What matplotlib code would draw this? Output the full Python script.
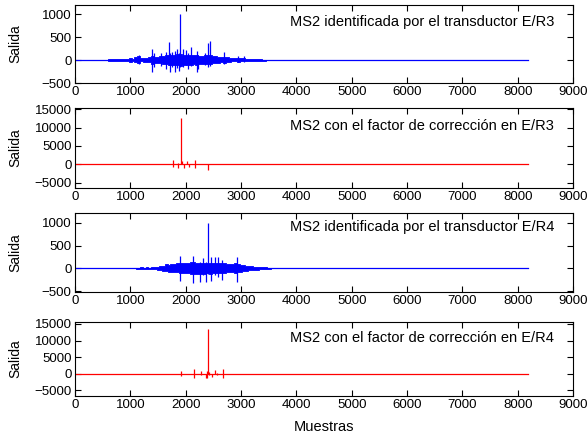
import matplotlib
matplotlib.use("Agg")
import matplotlib.pyplot as plt

# ---------------- data ----------------
N_SAMPLES = 8192

# Panel 1: MS2 identified by transducer E/R3
# dense core amplitude per 50-sample bin
p1_start, p1_step = 600, 50
p1_core_hi = [15, 15, 15, 15, 15, 15, 15, 20,
              50, 30, 60, 90, 40, 40, 50, 60, 80, 60, 70, 80,
              90, 100, 120, 110, 120, 130, 130, 120,
              120, 110, 120, 100, 110, 90, 90, 100, 110, 100,
              80, 80, 70, 60, 70, 60, 40, 40, 40, 50,
              40, 50, 20, 15, 15, 15, 15, 15, 10, 10]
p1_core_lo = [-10, -10, -10, -10, -10, -10, -10, -15,
              -40, -30, -50, -70, -30, -40, -50, -50, -80, -60, -60, -70,
              -80, -90, -100, -100, -110, -110, -120, -110,
              -100, -110, -100, -90, -100, -80, -80, -80, -90, -90,
              -70, -60, -60, -50, -60, -50, -40, -30, -30, -40,
              -30, -30, -20, -10, -10, -10, -10, -10, -10, -10]
# individual spikes
p1_sp_pos = [1150, 1400, 1420, 1550, 1650, 1690, 1710, 1750, 1800, 1850, 1880,
             1905, 1950, 2000, 2050, 2100, 2200, 2230, 2350, 2410, 2440, 2700,
             2950, 3050]
p1_sp_hi = [100, 250, 150, 160, 180, 390, 150, 170, 200, 250, 150,
            1000, 250, 220, 150, 280, 200, 120, 160, 380, 410, 170,
            90, 80]
p1_sp_lo = [-90, -270, -150, -120, -200, -100, -250, -150, -260, -180, -240,
            -150, -150, -100, -200, -120, -270, -200, -100, -160, -140, -80,
            -50, -40]

# Panel 2: MS2 with correction factor in E/R3 (spikes)
p2_pos = [1775, 1855, 1910, 1935, 1965, 2030, 2060, 2175, 2410]
p2_hi = [1100, 300, 12700, 800, 0, 1000, 0, 1300, 0]
p2_lo = [-600, -1000, 0, 0, -1000, 0, -700, -1000, -1500]

# Panel 3: MS2 identified by transducer E/R4
p3_start, p3_step = 1100, 50
p3_core_hi = [15, 15, 25, 15, 20, 15, 25, 20,
              40, 50, 60, 90, 80, 90, 100, 110, 120, 110, 110, 110,
              130, 130, 120, 120, 120, 120, 120, 120,
              110, 120, 120, 110, 110, 100, 90, 100, 110, 90,
              70, 70, 60, 60, 50, 40, 40, 30, 25, 20, 15, 10]
p3_core_lo = [-10, -15, -20, -15, -20, -15, -20, -20,
              -30, -40, -50, -60, -80, -70, -90, -90, -110, -100, -110, -100,
              -120, -130, -130, -120, -120, -120, -110, -120,
              -100, -110, -110, -110, -100, -90, -80, -80, -100, -90,
              -70, -60, -50, -40, -40, -30, -30, -20, -20, -15, -15, -10]
p3_sp_pos = [1900, 2140, 2260, 2310, 2370, 2405, 2450, 2530, 2590, 2650, 2920]
p3_sp_hi = [270, 280, 150, 220, 150, 1010, 240, 250, 250, 180, 260]
p3_sp_lo = [-280, -330, -300, -140, -290, -120, -280, -150, -200, -260, -300]

# Panel 4: MS2 with correction factor in E/R4 (spikes)
p4_pos = [1910, 2150, 2280, 2360, 2390, 2410, 2420, 2470, 2530, 2560, 2670]
p4_hi = [870, 1450, 680, 0, 680, 13470, 500, 0, 1160, 300, 1450]
p4_lo = [-770, -1260, -480, -1450, -1260, 0, -300, -1070, 0, -300, -1260]

titles = ["MS2 identificada por el transductor E/R3",
          "MS2 con el factor de corrección en E/R3",
          "MS2 identificada por el transductor E/R4",
          "MS2 con el factor de corrección en E/R4"]
ylims = [(-500, 1200), (-6400, 15300), (-520, 1220), (-6750, 15600)]
yticks = [[-500, 0, 500, 1000],
          [-5000, 0, 5000, 10000, 15000],
          [-500, 0, 500, 1000],
          [-5000, 0, 5000, 10000, 15000]]
xticks = [0, 1000, 2000, 3000, 4000, 5000, 6000, 7000, 8000, 9000]

# ---------------- layout ----------------
plt.rcParams['font.family'] = ['Liberation Sans', 'DejaVu Sans']
W, H = 587, 436
fig = plt.figure(figsize=(W / 100, H / 100), dpi=100)
left_px, right_px = 75, 573
panels_px = [(5, 83), (108, 188), (213, 292), (322, 396)]

BLUE = (0, 0, 1)
RED = (1, 0, 0)

axes = []
for k, (top, bot) in enumerate(panels_px):
    ax = fig.add_axes([left_px / W, 1 - bot / H, (right_px - left_px) / W, (bot - top) / H])
    axes.append(ax)
    ax.set_xlim(0, 9000)
    ax.set_ylim(*ylims[k])
    ax.set_xticks(xticks)
    ax.set_yticks(yticks[k])
    ax.tick_params(direction='in', top=True, right=True, length=4, width=0.8,
                   labelsize=9.5, pad=2.5)
    for s in ax.spines.values():
        s.set_linewidth(0.8)
    ax.set_ylabel("Salida", fontsize=10)
    ax.yaxis.set_label_coords(-0.105, 0.5)
    ax.text(0.962, 0.78 if k != 2 else 0.82, titles[k], transform=ax.transAxes,
            ha='right', va='center', fontsize=10.5)


def draw_signal(ax, start, step, core_hi, core_lo, sp_pos, sp_hi, sp_lo, color):
    xs = [start + i * step for i in range(len(core_hi))]
    ax.plot([0, N_SAMPLES], [0, 0], color=color, lw=0.9)
    ax.fill_between(xs, core_lo, core_hi, step='mid', color=color, lw=0.6)
    ax.vlines(sp_pos, sp_lo, sp_hi, color=color, lw=0.9)


draw_signal(axes[0], p1_start, p1_step, p1_core_hi, p1_core_lo,
            p1_sp_pos, p1_sp_hi, p1_sp_lo, BLUE)
axes[1].plot([0, N_SAMPLES], [0, 0], color=RED, lw=0.9)
axes[1].vlines(p2_pos, p2_lo, p2_hi, color=RED, lw=0.9)
draw_signal(axes[2], p3_start, p3_step, p3_core_hi, p3_core_lo,
            p3_sp_pos, p3_sp_hi, p3_sp_lo, BLUE)
axes[3].plot([0, N_SAMPLES], [0, 0], color=RED, lw=0.9)
axes[3].vlines(p4_pos, p4_lo, p4_hi, color=RED, lw=0.9)

axes[3].set_xlabel("Muestras", fontsize=10.5, labelpad=6)

fig.savefig("out.png", dpi=100)
